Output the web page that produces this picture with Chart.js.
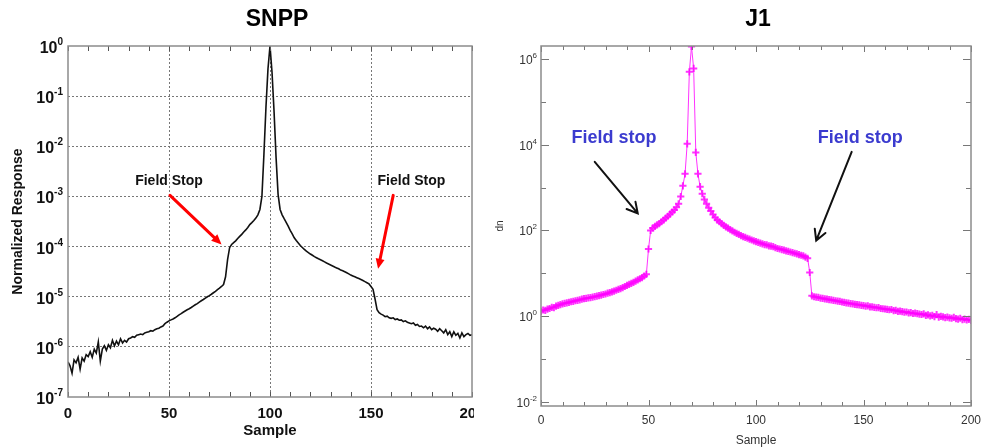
<!DOCTYPE html>
<html>
<head>
<meta charset="utf-8">
<script src="https://cdn.jsdelivr.net/npm/chart.js@4.4.1/dist/chart.umd.min.js"></script>
<style>
  html, body { margin: 0; padding: 0; background: #fff; }
  #wrap { position: relative; width: 982px; height: 448px; overflow: hidden; }
  #snpp { position: absolute; left: 0; top: 0; }
  #j1 { position: absolute; left: 491px; top: 0; }
</style>
</head>
<body>
<div id="wrap">
  <canvas id="snpp" width="474" height="448"></canvas>
  <canvas id="j1" width="491" height="448"></canvas>
</div>
<script>
// SNPP normalized response, one value per sample (0..200)
const snppResponse = [
  5e-7, 4.2e-7, 3e-7, 5.5e-7, 4.8e-7, 6.2e-7, 3.6e-7, 6e-7, 5.2e-7, 7e-7,
  6.4e-7, 8e-7, 6.2e-7, 9e-7, 7.5e-7, 1.25e-6, 5.2e-7, 9e-7, 1.05e-6, 8.5e-7,
  1.1e-6, 9.6e-7, 1.35e-6, 1.05e-6, 1.3e-6, 1.1e-6, 1.45e-6, 1.2e-6, 1.35e-6, 1.25e-6,
  1.45e-6, 1.5e-6, 1.6e-6, 1.55e-6, 1.7e-6, 1.75e-6, 1.8e-6, 1.75e-6, 1.9e-6, 1.95e-6,
  2.0e-6, 2.1e-6, 2.05e-6, 2.2e-6, 2.3e-6, 2.35e-6, 2.5e-6, 2.6e-6, 2.9e-6, 3.1e-6,
  3.3e-6, 3.45e-6, 3.6e-6, 3.8e-6, 4.05e-6, 4.35e-6, 4.6e-6, 4.9e-6, 5.2e-6, 5.5e-6,
  5.75e-6, 6.1e-6, 6.5e-6, 6.9e-6, 7.3e-6, 7.8e-6, 8.3e-6, 8.8e-6, 9.4e-6, 1.0e-5,
  1.05e-5, 1.12e-5, 1.2e-5, 1.28e-5, 1.38e-5, 1.48e-5, 1.6e-5, 1.75e-5, 2.5e-5, 5.5e-5,
  9.5e-5, 1.1e-4, 1.2e-4, 1.3e-4, 1.45e-4, 1.6e-4, 1.75e-4, 1.95e-4, 2.15e-4, 2.4e-4,
  2.75e-4, 3.0e-4, 3.3e-4, 3.7e-4, 4.3e-4, 5.5e-4, 1.0e-3, 7e-3, 6e-2, 3.5e-1,
  1.0, 3e-1, 5e-2, 6e-3, 1.1e-3, 5.5e-4, 4.3e-4, 3.6e-4, 3.05e-4, 2.55e-4,
  2.1e-4, 1.8e-4, 1.5e-4, 1.32e-4, 1.18e-4, 1.05e-4, 9.6e-5, 8.8e-5, 8.1e-5, 7.6e-5,
  7.1e-5, 6.7e-5, 6.3e-5, 6.0e-5, 5.7e-5, 5.45e-5, 5.2e-5, 4.95e-5, 4.7e-5, 4.5e-5,
  4.3e-5, 4.1e-5, 3.9e-5, 3.75e-5, 3.6e-5, 3.4e-5, 3.3e-5, 3.15e-5, 3.0e-5, 2.85e-5,
  2.7e-5, 2.6e-5, 2.5e-5, 2.4e-5, 2.3e-5, 2.2e-5, 2.1e-5, 2.0e-5, 1.9e-5, 1.8e-5,
  1.6e-5, 1.4e-5, 9e-6, 5.5e-6, 4.8e-6, 4.5e-6, 4.3e-6, 4.0e-6, 4.1e-6, 3.8e-6,
  3.7e-6, 3.8e-6, 3.5e-6, 3.6e-6, 3.4e-6, 3.45e-6, 3.2e-6, 3.3e-6, 3.1e-6, 3.0e-6,
  2.9e-6, 3.0e-6, 2.7e-6, 2.8e-6, 2.55e-6, 2.6e-6, 2.4e-6, 2.6e-6, 2.3e-6, 2.5e-6,
  2.2e-6, 2.35e-6, 2.25e-6, 2.05e-6, 2.3e-6, 2.1e-6, 1.9e-6, 2.2e-6, 1.75e-6, 2.0e-6,
  1.6e-6, 2.0e-6, 1.7e-6, 1.85e-6, 1.5e-6, 1.9e-6, 1.6e-6, 1.75e-6, 1.85e-6, 1.7e-6,
  1.75e-6
];

// J1 response in dn, one value per sample (0..200)
const j1Dn = [
  1.30, 1.40, 1.38, 1.47, 1.52, 1.62, 1.60, 1.72, 1.80, 1.86,
  1.95, 2.00, 2.05, 2.12, 2.18, 2.22, 2.30, 2.35, 2.42, 2.50,
  2.57, 2.62, 2.68, 2.72, 2.80, 2.88, 2.95, 3.02, 3.12, 3.22,
  3.31, 3.45, 3.58, 3.72, 3.88, 4.05, 4.22, 4.42, 4.65, 4.95,
  5.25, 5.55, 5.85, 6.2, 6.6, 7.05, 7.5, 8.0, 8.7, 9.5,
  37, 100, 115, 125, 135, 145, 160, 175, 195, 215,
  240, 270, 300, 350, 420, 620, 1100, 2100, 10500, 500000,
  1950000, 600000, 6600, 2100, 1050, 720, 530, 420, 340, 285,
  235, 200, 175, 160, 145, 132, 122, 113, 105, 98,
  91, 86, 81, 76, 72, 69, 66, 63, 60, 57,
  55, 53, 51, 49, 47, 46, 44, 43, 42, 40,
  38, 37, 36, 35, 33.5, 32.5, 31.5, 30.5, 29.5, 28.5,
  27.5, 26.5, 25.5, 24, 22.5, 10.5, 3.0, 2.85, 2.8, 2.75,
  2.65, 2.62, 2.55, 2.5, 2.45, 2.4, 2.36, 2.3, 2.25, 2.22,
  2.15, 2.12, 2.05, 2.02, 1.98, 1.95, 1.9, 1.86, 1.85, 1.8,
  1.78, 1.72, 1.75, 1.66, 1.65, 1.62, 1.58, 1.6, 1.52, 1.5,
  1.48, 1.45, 1.42, 1.44, 1.36, 1.38, 1.3, 1.32, 1.28, 1.25,
  1.26, 1.2, 1.22, 1.16, 1.18, 1.15, 1.12, 1.1, 1.14, 1.05,
  1.08, 1.02, 1.05, 0.98, 1.1, 0.95, 1.0, 0.97, 0.93, 0.96,
  0.92, 0.9, 0.94, 0.88, 0.86, 0.9, 0.84, 0.86, 0.82, 0.85,
  0.8
];

// sample numbers on the x axis
const samples = snppResponse.map((v, i) => i);

// annotation texts and arrows, in data units (sample, value)
const snppNotes = [
  { text: 'Field Stop', x: 50, y: 2e-3 },
  { text: 'Field Stop', x: 170, y: 2e-3 }
];
const snppArrows = [
  { from: [50.5, 1.05e-3], to: [76, 1.1e-4] },
  { from: [161, 1.05e-3], to: [153.5, 3.6e-5] }
];
const j1Notes = [
  { text: 'Field stop', x: 34, y: 1.4e4 },
  { text: 'Field stop', x: 148.5, y: 1.4e4 }
];
const j1Arrows = [
  { from: [25, 4e3], to: [45, 2.5e2] },
  { from: [144.5, 6.8e3], to: [128, 58] }
];

function decadeTicks(scale) {
  const lo = Math.ceil(Math.log10(scale.min) - 1e-9);
  const hi = Math.floor(Math.log10(scale.max) + 1e-9);
  const t = [];
  for (let e = lo; e <= hi; e++) t.push({ value: Math.pow(10, e) });
  scale.ticks = t;
}

// heading above the plot area
const heading = {
  id: 'heading',
  afterDraw(chart, args, opts) {
    const { ctx, chartArea } = chart;
    ctx.save();
    ctx.font = opts.font;
    ctx.fillStyle = '#000';
    ctx.textAlign = 'center';
    ctx.textBaseline = 'middle';
    ctx.fillText(opts.text, (chartArea.left + chartArea.right) / 2 + opts.dx, opts.y);
    ctx.restore();
  }
};

// "10" with a raised exponent for each labelled decade tick
const powerLabels = {
  id: 'powerLabels',
  afterDraw(chart, args, opts) {
    const { ctx, chartArea: a, scales: { y } } = chart;
    ctx.save();
    ctx.fillStyle = opts.color;
    ctx.textBaseline = 'alphabetic';
    y.ticks.forEach(t => {
      if (!t.label) return;
      const exp = String(Math.round(Math.log10(t.value)));
      const py = y.getPixelForValue(t.value);
      ctx.font = opts.expFont;
      const ew = ctx.measureText(exp).width;
      const xr = a.left - opts.gap;
      ctx.textAlign = 'left';
      ctx.fillText(exp, xr - ew, py + opts.expDy);
      ctx.font = opts.baseFont;
      ctx.textAlign = 'right';
      ctx.fillText('10', xr - ew, py + opts.baseDy);
    });
    ctx.restore();
  }
};

// frame and inward tick marks
const frame = {
  id: 'frame',
  afterDraw(chart, args, opts) {
    const { ctx, chartArea: a, scales: { x, y } } = chart;
    ctx.save();
    ctx.strokeStyle = opts.tickColor;
    ctx.lineWidth = 1;
    ctx.beginPath();
    for (let v = x.min; v <= x.max; v += opts.xStep) {
      const px = Math.round(x.getPixelForValue(v)) + 0.5;
      const len = v % 50 === 0 ? opts.xMajor : opts.xMinor;
      ctx.moveTo(px, a.bottom); ctx.lineTo(px, a.bottom - len);
      ctx.moveTo(px, a.top); ctx.lineTo(px, a.top + len);
    }
    if (opts.yMajor) {
      y.ticks.forEach(t => {
        const py = Math.round(y.getPixelForValue(t.value)) + 0.5;
        const len = t.label ? opts.yMajor : opts.yMinor;
        ctx.moveTo(a.left, py); ctx.lineTo(a.left + len, py);
        ctx.moveTo(a.right, py); ctx.lineTo(a.right - len, py);
      });
    }
    ctx.stroke();
    ctx.strokeStyle = opts.color;
    ctx.lineWidth = opts.width;
    ctx.strokeRect(a.left, a.top, a.right - a.left, a.bottom - a.top);
    ctx.restore();
  }
};

// text notes and arrows placed through the scales
const notes = {
  id: 'notes',
  afterDraw(chart, args, opts) {
    const { ctx, scales: { x, y } } = chart;
    ctx.save();
    ctx.font = opts.font;
    ctx.fillStyle = opts.textColor;
    ctx.textAlign = 'center';
    ctx.textBaseline = 'middle';
    opts.items.forEach(n => ctx.fillText(n.text, x.getPixelForValue(n.x), y.getPixelForValue(n.y)));
    ctx.strokeStyle = opts.arrowColor;
    ctx.fillStyle = opts.arrowColor;
    ctx.lineWidth = opts.arrowWidth;
    ctx.lineCap = 'round';
    opts.arrows.forEach(ar => {
      const x1 = x.getPixelForValue(ar.from[0]), y1 = y.getPixelForValue(ar.from[1]);
      const x2 = x.getPixelForValue(ar.to[0]), y2 = y.getPixelForValue(ar.to[1]);
      const ang = Math.atan2(y2 - y1, x2 - x1);
      const L = opts.head, w = opts.spread;
      const hx1 = x2 - L * Math.cos(ang - w), hy1 = y2 - L * Math.sin(ang - w);
      const hx2 = x2 - L * Math.cos(ang + w), hy2 = y2 - L * Math.sin(ang + w);
      ctx.beginPath();
      if (opts.filled) {
        ctx.moveTo(x1, y1);
        ctx.lineTo(x2 - L * 0.8 * Math.cos(ang), y2 - L * 0.8 * Math.sin(ang));
        ctx.stroke();
        ctx.beginPath();
        ctx.moveTo(x2, y2); ctx.lineTo(hx1, hy1); ctx.lineTo(hx2, hy2); ctx.closePath();
        ctx.fill();
      } else {
        ctx.moveTo(x1, y1); ctx.lineTo(x2, y2);
        ctx.moveTo(hx1, hy1); ctx.lineTo(x2, y2); ctx.lineTo(hx2, hy2);
        ctx.stroke();
      }
    });
    ctx.restore();
  }
};

Chart.register(heading, powerLabels, frame, notes);

const FONT = '"Liberation Sans", Arial, sans-serif';

// ---- SNPP ----
new Chart(document.getElementById('snpp'), {
  type: 'line',
  data: {
    labels: samples,
    datasets: [{
      data: snppResponse,
      borderColor: '#111',
      borderWidth: 1.6,
      pointRadius: 0,
      tension: 0
    }]
  },
  options: {
    responsive: false,
    animation: false,
    devicePixelRatio: 1,
    layout: { padding: { left: 0, top: 46, right: 2, bottom: 0 } },
    plugins: {
      legend: { display: false },
      tooltip: { enabled: false },
      heading: { text: 'SNPP', dx: 7, y: 20, font: 'bold 23px ' + FONT },
      powerLabels: { color: '#111', gap: 5, baseFont: 'bold 16px ' + FONT, expFont: 'bold 10px ' + FONT, baseDy: 7, expDy: -1 },
      frame: { color: '#8c8c8c', width: 1.5, tickColor: '#555', xStep: 10, xMajor: 5, xMinor: 5 },
      notes: {
        items: snppNotes, arrows: snppArrows,
        font: 'bold 14px ' + FONT, textColor: '#111',
        arrowColor: '#ff0000', arrowWidth: 3, head: 11, spread: 0.42, filled: true
      }
    },
    scales: {
      x: {
        type: 'linear', min: 0, max: 200,
        ticks: { stepSize: 50, color: '#111', padding: 8, maxRotation: 0,
          font: { family: FONT, size: 15, weight: 'bold' } },
        grid: {
          color: c => (c.tick && (c.tick.value === 0 || c.tick.value === 200)) ? 'rgba(0,0,0,0)' : '#777',
          lineWidth: 1, drawTicks: false
        },
        border: { display: false, dash: [2, 2] },
        title: { display: true, text: 'Sample', color: '#111', padding: { top: 0, bottom: 8 },
          font: { family: FONT, size: 15, weight: 'bold' } },
        afterFit: s => { s.height = 51; s.paddingLeft = 0; s.paddingRight = 0; }
      },
      y: {
        type: 'logarithmic', min: 1e-7, max: 1,
        afterBuildTicks: decadeTicks,
        ticks: { display: false, callback: v => 'decade', autoSkip: false },
        grid: {
          color: c => (c.tick && (c.tick.value === 1 || c.tick.value === 1e-7)) ? 'rgba(0,0,0,0)' : '#777',
          lineWidth: 1, drawTicks: false
        },
        border: { display: false, dash: [2, 2] },
        title: { display: true, text: 'Normalized Response', color: '#111', padding: { top: 10, bottom: 0 },
          font: { family: FONT, size: 14, weight: 'bold' } },
        afterFit: s => { s.width = 68; s.paddingTop = 0; s.paddingBottom = 0; }
      }
    }
  }
});

// ---- J1 ----
new Chart(document.getElementById('j1'), {
  type: 'line',
  data: {
    labels: samples,
    datasets: [{
      data: j1Dn,
      borderColor: '#ff33ff',
      borderWidth: 1,
      pointStyle: 'cross',
      pointRadius: 3.6,
      pointBorderWidth: 2,
      pointBorderColor: 'rgba(255,0,255,0.8)',
      tension: 0
    }]
  },
  options: {
    responsive: false,
    animation: false,
    devicePixelRatio: 1,
    layout: { padding: { left: 0, top: 46, right: 11, bottom: 0 } },
    plugins: {
      legend: { display: false },
      tooltip: { enabled: false },
      heading: { text: 'J1', dx: 2, y: 20, font: 'bold 23px ' + FONT },
      powerLabels: { color: '#333', gap: 4, baseFont: '12px ' + FONT, expFont: '8px ' + FONT, baseDy: 5, expDy: -1 },
      frame: { color: '#8c8c8c', width: 1.5, tickColor: '#777', xStep: 10, xMajor: 6, xMinor: 4, yMajor: 8, yMinor: 5 },
      notes: {
        items: j1Notes, arrows: j1Arrows,
        font: 'bold 18px ' + FONT, textColor: '#3b3bcf',
        arrowColor: '#111', arrowWidth: 2, head: 12, spread: 0.5, filled: false
      }
    },
    scales: {
      x: {
        type: 'linear', min: 0, max: 200,
        ticks: { stepSize: 50, color: '#333', padding: 7, maxRotation: 0,
          font: { family: FONT, size: 12 } },
        grid: { display: false, drawTicks: false },
        border: { display: false },
        title: { display: true, text: 'Sample', color: '#333', padding: { top: 0, bottom: 0 },
          font: { family: FONT, size: 12 } },
        afterFit: s => { s.height = 42; s.paddingLeft = 0; s.paddingRight = 0; }
      },
      y: {
        type: 'logarithmic', min: 0.0081, max: 2.0e6,
        afterBuildTicks: decadeTicks,
        ticks: {
          display: false, autoSkip: false,
          callback: v => (Math.round(Math.log10(v)) % 2 === 0 ? 'decade' : '')
        },
        grid: { display: false, drawTicks: false },
        border: { display: false },
        title: { display: true, text: 'dn', color: '#333', padding: { top: 3, bottom: 0 },
          font: { family: FONT, size: 10 } },
        afterFit: s => { s.width = 50; s.paddingTop = 0; s.paddingBottom = 0; }
      }
    }
  }
});
</script>
</body>
</html>
